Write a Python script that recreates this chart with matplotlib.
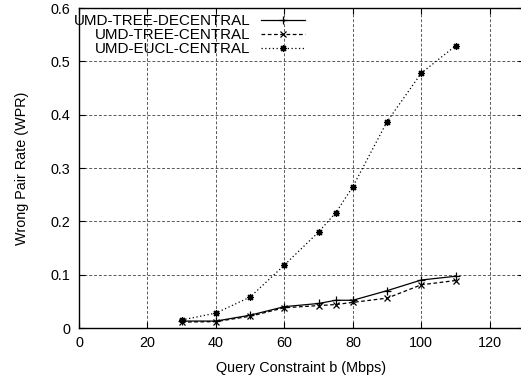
import matplotlib
import matplotlib.pyplot as plt

matplotlib.use('agg')

# query constraint b (Mbps)
bw = [30, 40, 50, 60, 70, 75, 80, 90, 100, 110]

tree_decentral = [0.013, 0.013, 0.024, 0.040, 0.046, 0.052, 0.052, 0.070, 0.090, 0.097]
tree_central = [0.011, 0.012, 0.022, 0.038, 0.042, 0.044, 0.048, 0.056, 0.081, 0.089]
eucl_central = [0.015, 0.028, 0.058, 0.118, 0.180, 0.216, 0.265, 0.387, 0.478, 0.529]

x_ticks = [0, 20, 40, 60, 80, 100, 120]
y_ticks = [0, 0.1, 0.2, 0.3, 0.4, 0.5, 0.6]
y_tick_labels = ['0', '0.1', '0.2', '0.3', '0.4', '0.5', '0.6']

plt.rcParams['font.family'] = ['Liberation Sans', 'DejaVu Sans']
fs = 10.4

fig = plt.figure(figsize=(5.21, 3.82), dpi=100)
ax = fig.add_axes([79 / 521, 54 / 382, 445 / 521, 320 / 382])

# gnuplot pt 3 = '+' and 'x' on top of each other
star = (8, 2, 0)
ms = 4.5
ax.plot(bw, tree_decentral, color='black', lw=0.9, ls='-',
        marker='+', ms=ms + 1, mew=0.9, label='UMD-TREE-DECENTRAL')
ax.plot(bw, tree_central, color='black', lw=0.9, ls=(0, (3, 2)),
        marker='x', ms=ms, mew=0.9, label='UMD-TREE-CENTRAL')
ax.plot(bw, eucl_central, color='black', lw=0.9, ls=(0, (1, 2)),
        marker=star, ms=ms + 0.5, mew=0.9, label='UMD-EUCL-CENTRAL')

ax.set_xlim(0, 130)
ax.set_ylim(0, 0.6)
ax.set_xticks(x_ticks)
ax.set_yticks(y_ticks)
ax.set_yticklabels(y_tick_labels)
ax.tick_params(direction='in', length=4, width=0.8, labelsize=fs, pad=6,
               top=True, right=True, colors='black')

ax.grid(True, color='0.35', lw=0.7, ls=(0, (3, 2)))
ax.set_axisbelow(True)
for s in ax.spines.values():
    s.set_linewidth(1.0)
    s.set_color('black')

ax.set_xlabel('Query Constraint b (Mbps)', fontsize=fs, labelpad=8)
ax.set_ylabel('Wrong Pair Rate (WPR)', fontsize=fs, labelpad=16)

ax.legend(loc='upper right', bbox_to_anchor=(0.508, 0.98), frameon=False,
          markerfirst=False, fontsize=10.9, handlelength=2.9, handletextpad=0.7,
          labelspacing=0.0, borderpad=0, borderaxespad=0)

fig.savefig('out.png', dpi=100)
